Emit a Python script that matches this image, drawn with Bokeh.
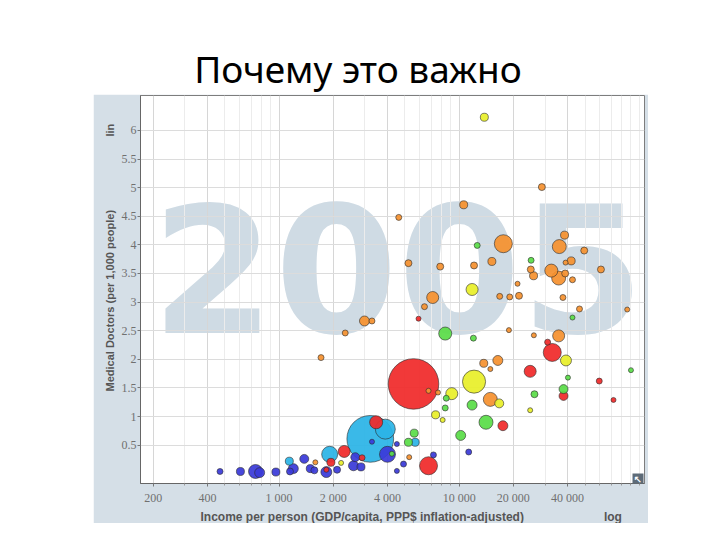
import math
from bokeh.plotting import figure
from bokeh.layouts import column, row
from bokeh.models import (FixedTicker, CustomJSTickFormatter, Label, BoxAnnotation,
                          ColumnDataSource, Div, Spacer, Title)
from bokeh.embed import file_html
from bokeh.resources import INLINE

# ---------------- data ----------------
title_text = "Почему это важно"
year_text = "2005"
x_label = "Income per person (GDP/capita, PPP$ inflation-adjusted)"
y_label = "Medical Doctors (per 1,000 people)"
x_scale_name = "log"
y_scale_name = "lin"

x_ticks = [200, 400, 1000, 2000, 4000, 10000, 20000, 40000]
y_ticks = [0.5, 1, 1.5, 2, 2.5, 3, 3.5, 4, 4.5, 5, 5.5, 6]

# Sub-Saharan Africa
ssa_income = [470, 610, 740, 780, 960, 1150, 1200, 1380, 1490, 1570, 1830, 2100,
              2590, 2650, 2850, 4000, 4510, 4910, 7200, 4510, 11300, 3280]
ssa_doctors = [0.04, 0.04, 0.04, 0.02, 0.03, 0.04, 0.09, 0.26, 0.09, 0.06, 0.03, 0.07,
               0.14, 0.29, 0.12, 0.34, 0.52, 0.17, 0.33, 0.05, 0.38, 0.56]
ssa_pop = [3.4, 11.5, 64, 24, 11.5, 6.8, 24, 17, 11.5, 6.8, 32, 6.8,
           24, 17, 11.5, 91, 1.2, 3.4, 3.4, 1.2, 3.4, 1.2]

# South Asia
sas_income = [3210, 3890, 1910, 1140, 5700]
sas_doctors = [0.61, 0.78, 0.34, 0.22, 0.55]
sas_pop = [1100, 159, 91, 11.5, 11.5]

# East Asia & Pacific
eap_income = [5580, 3460, 6760, 2300, 1940, 2890, 1830, 32900, 31000, 24800,
              38000, 60000, 72000, 17500, 5950]
eap_doctors = [1.57, 0.90, 0.14, 0.39, 0.20, 0.28, 0.07, 2.12, 2.30, 1.79,
               1.36, 1.62, 1.29, 0.84, 2.71]
eap_pop = [1300, 53, 123, 42, 11.5, 3.4, 1.2, 123, 3.4, 42,
           17, 3.4, 1.2, 24, 1.2]

# Middle East & North Africa
mna_income = [8370, 12000, 12600, 25100, 42600, 8480, 8370, 11800, 14100, 10200,
              5630, 5230, 4230, 26200, 38000, 40200, 90000]
mna_doctors = [2.45, 2.37, 3.99, 3.73, 2.73, 1.32, 1.15, 1.20, 0.90, 0.67,
               0.71, 0.55, 0.35, 1.39, 1.48, 1.68, 1.81]
mna_pop = [53, 3.4, 3.4, 3.4, 1.2, 3.4, 3.4, 24, 64, 24,
           11.5, 11.5, 1.2, 6.8, 17, 1.2, 1.2]

# America
ame_income = [13800, 12100, 11800, 9100, 7400, 8100, 39200, 16700, 24800, 2210]
ame_doctors = [6.23, 1.61, 3.22, 1.40, 1.03, 0.94, 1.98, 1.23, 1.11, 0.19]
ame_pop = [11.5, 225, 42, 42, 11.5, 1.2, 32, 17, 1.2, 1.2]

# Europe & Central Asia
eca_income = [28800, 10600, 4620, 38500, 17600, 36000, 49500, 5230, 7850, 12100,
              15200, 25000, 25900, 32500, 35700, 41900, 39000, 38800, 42600, 61300,
              21100, 7130, 16800, 19100, 21500, 37700, 6420, 46600, 85800, 2980,
              3280, 2330, 1710, 18900, 26000, 35700, 13700, 16400, 14900, 14900,
              6760, 7630, 1590, 5280]
eca_doctors = [5.01, 4.70, 4.48, 4.17, 4.02, 3.97, 3.90, 3.68, 3.62, 3.64,
               3.71, 3.57, 3.46, 3.55, 3.42, 3.72, 3.69, 3.50, 3.39, 3.57,
               3.32, 3.08, 3.10, 3.09, 3.11, 3.08, 2.92, 2.88, 2.87, 2.67,
               2.67, 2.46, 2.03, 2.51, 2.42, 2.41, 1.93, 1.98, 1.83, 1.30,
               1.45, 1.42, 0.20, 0.29]
eca_pop = [6.8, 11.5, 3.4, 11.5, 123, 64, 6.8, 6.8, 6.8, 6.8,
           11.5, 6.8, 11.5, 53, 64, 11.5, 1.2, 6.8, 3.4, 6.8,
           1.2, 42, 3.4, 3.4, 6.8, 3.4, 3.4, 3.4, 1.2, 24,
           3.4, 3.4, 3.4, 1.2, 1.2, 42, 11.5, 24, 1.2, 64,
           1.2, 1.2, 1.2, 1.2]

region_colors = {
    "ssa": "#3a3ad8",
    "sas": "#2bb4e6",
    "eap": "#f02a2a",
    "mna": "#5add48",
    "ame": "#e8ef2a",
    "eca": "#f5912f",
}

regions = [
    ("ssa", ssa_income, ssa_doctors, ssa_pop),
    ("sas", sas_income, sas_doctors, sas_pop),
    ("eap", eap_income, eap_doctors, eap_pop),
    ("mna", mna_income, mna_doctors, mna_pop),
    ("ame", ame_income, ame_doctors, ame_pop),
    ("eca", eca_income, eca_doctors, eca_pop),
]

rows = []
for code, inc, doc, pop in regions:
    for a, b, c in zip(inc, doc, pop):
        rows.append((a, b, c, region_colors[code]))
rows.sort(key=lambda r: -r[2])  # big bubbles first

src = ColumnDataSource(dict(
    x=[r[0] for r in rows],
    y=[r[1] for r in rows],
    size=[2 * (1.8 + 0.65 * math.sqrt(r[2])) for r in rows],
    color=[r[3] for r in rows],
))

# ---------------- figure (the Gapminder panel) ----------------
PANEL = "#d5dfe7"
NBSP = "\u00a0"
p = figure(width=555, height=429, x_axis_type="log",
           x_range=(170, 107000), y_range=(-0.17, 6.61),
           output_backend="svg", toolbar_location=None,
           min_border_left=47, min_border_right=4,
           min_border_top=1, min_border_bottom=38)
p.background_fill_color = "white"
p.border_fill_color = PANEL
p.outline_line_color = "#7d7d7d"
p.outline_line_width = 1

minor_x = []
for dec in [100, 1000, 10000]:
    for m in range(2, 10):
        v = m * dec
        if 170 < v < 107000 and v not in x_ticks:
            minor_x.append(v)
minor_x.append(100000)

p.xaxis.ticker = FixedTicker(ticks=x_ticks, minor_ticks=minor_x)
p.yaxis.ticker = FixedTicker(ticks=y_ticks, minor_ticks=[])
p.xaxis.formatter = CustomJSTickFormatter(
    code="return String(Math.round(tick)).replace(/\\B(?=(\\d{3})+(?!\\d))/g, ' ');")
p.yaxis.formatter = CustomJSTickFormatter(code="return String(tick);")

for ax in (p.xaxis, p.yaxis):
    ax.axis_line_color = "#666666"
    ax.major_tick_line_color = "#777777"
    ax.minor_tick_line_color = "#999999"
    ax.major_tick_in = 0
    ax.major_tick_out = 3
    ax.minor_tick_in = 0
    ax.minor_tick_out = 2
    ax.major_label_text_font = "Liberation Serif"
    ax.major_label_text_font_size = "12px"
    ax.major_label_text_color = "#707070"
p.xaxis.major_label_standoff = 4
p.yaxis.major_label_standoff = 1

p.add_layout(Title(text=y_label + NBSP * 24 + y_scale_name, align="left", offset=92,
                   standoff=6, text_font="Liberation Sans", text_font_style="bold",
                   text_font_size="11px", text_color="#555555"), "left")
p.add_layout(Title(text=x_label + NBSP * 24 + x_scale_name, align="left", offset=60,
                   standoff=0, text_font="Liberation Sans", text_font_style="bold",
                   text_font_size="12px", text_color="#555555"), "below")

p.xgrid.grid_line_color = "#d6d6d6"
p.xgrid.minor_grid_line_color = "#ececec"
p.ygrid.grid_line_color = "#dcdcdc"

# watermark year (below grid, inside the frame); canvas px = page px - (93, 94)
p.add_layout(Label(x=58, y=174, x_units="canvas", y_units="canvas",
                   text=year_text, text_font="DejaVu Sans", text_font_style="bold",
                   text_font_size="177px", text_color="#cfdbe4",
                   text_align="left", text_baseline="middle", level="image"))

p.scatter("x", "y", size="size", source=src, fill_color="color", fill_alpha=0.93,
          line_color="#2a2a2a", line_alpha=0.75, line_width=0.8)

# zoom-out button in the corner of the plot area
p.add_layout(BoxAnnotation(left=539, right=550, top=379, bottom=390,
                           left_units="canvas", right_units="canvas",
                           top_units="canvas", bottom_units="canvas",
                           fill_color="#5d6b78", fill_alpha=1, line_color=None,
                           level="overlay"))
p.add_layout(Label(x=544.5, y=384.5, x_units="canvas", y_units="canvas", text="↖",
                   text_font="DejaVu Sans", text_font_size="10px", text_color="#ffffff",
                   text_font_style="bold", text_align="center", text_baseline="middle",
                   level="overlay"))

# ---------------- slide title ----------------
title_div = Div(
    text=('<div style="width:706px;text-align:center;font-family:\'Noto Sans\';'
          'font-size:37px;line-height:37px;padding-top:45px;color:#000;margin:0;">'
          + title_text + '</div>'),
    width=720, height=84)

layout = column(title_div, row(Spacer(width=93, height=429), p))

open("out.html", "w").write(file_html(layout, INLINE))
